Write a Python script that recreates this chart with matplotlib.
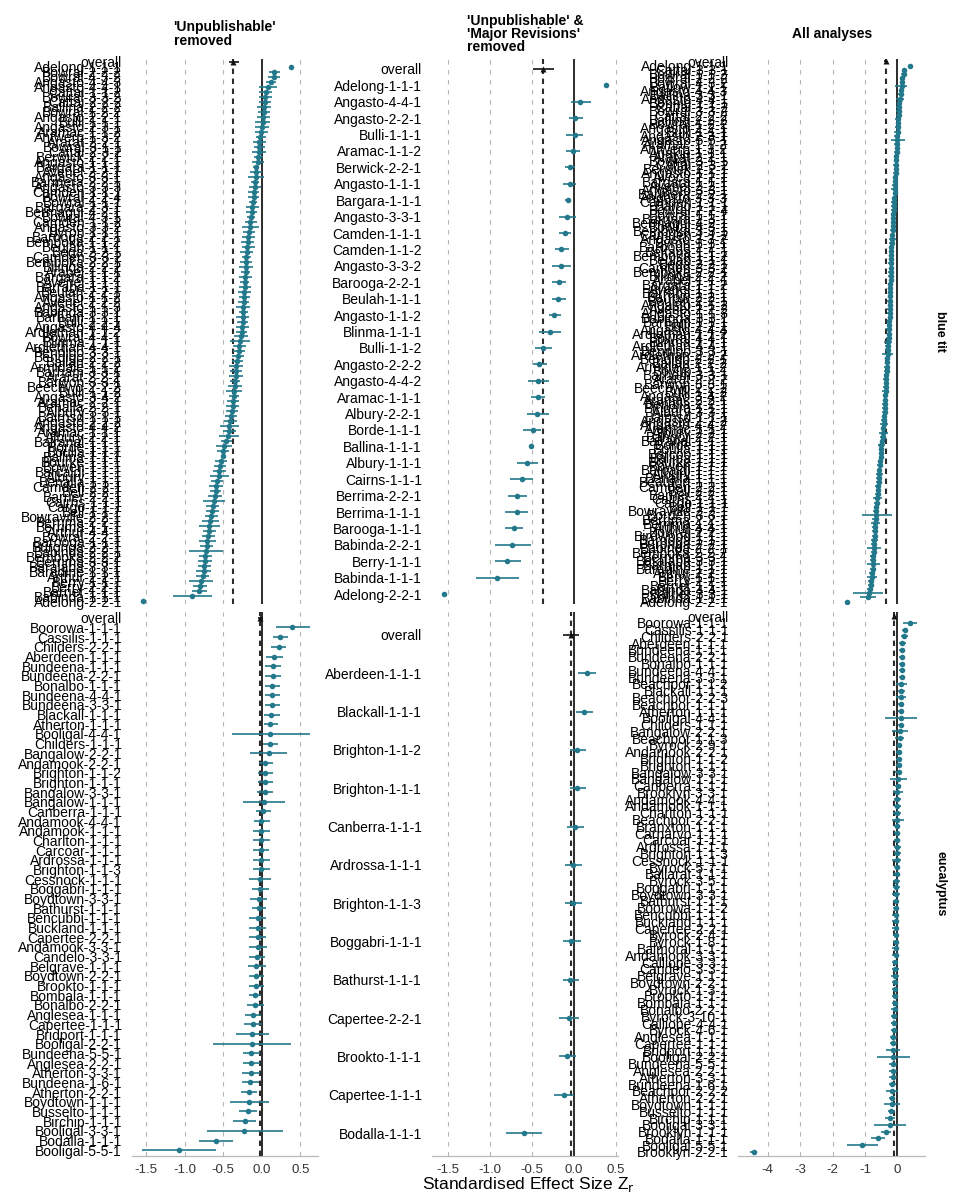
import matplotlib
matplotlib.use('Agg')
import matplotlib.pyplot as plt

plt.rcParams['font.family'] = ['Liberation Sans', 'DejaVu Sans']
plt.rcParams['axes.unicode_minus'] = False

# ---------------- data ----------------
# group: P = in every panel, M = 'Major Revisions' (not in middle column), U = 'Unpublishable' (only in All analyses)
bt_labels = [
    # P
    "Adelong-1-1-1", "Angasto-4-4-1", "Angasto-2-2-1", "Bulli-1-1-1", "Aramac-1-1-2", "Berwick-2-2-1",
    "Angasto-1-1-1", "Bargara-1-1-1", "Angasto-3-3-1", "Camden-1-1-1", "Camden-1-1-2", "Angasto-3-3-2",
    "Barooga-2-2-1", "Beulah-1-1-1", "Angasto-1-1-2", "Blinma-1-1-1", "Bulli-1-1-2", "Angasto-2-2-2",
    "Angasto-4-4-2", "Aramac-1-1-1", "Albury-2-2-1", "Borde-1-1-1", "Ballina-1-1-1", "Albury-1-1-1",
    "Cairns-1-1-1", "Berrima-2-2-1", "Berrima-1-1-1", "Barooga-1-1-1", "Babinda-2-2-1", "Berry-1-1-1",
    "Babinda-1-1-1", "Adelong-2-2-1",
    # M
    "Bowral-2-2-2", "Bowral-4-3-2", "Angasto-4-4-3", "Cattai-1-1-2", "Bowral-3-3-2", "Cattai-2-2-2",
    "Ballina-2-2-2", "Bowral-1-2-2", "Angasto-2-3-1", "Antwerp-1-3-2", "Ararat-2-2-1", "Bowral-3-1-1",
    "Cattai-2-3-2", "Avenel-2-2-1", "Barmera-2-2-1", "Angasto-3-3-3", "Bowral-2-2-4", "Bowral-1-1-1",
    "Bargara-2-3-1", "Bermagui-4-2-1", "Bowral-4-3-1", "Byron-1-1-1", "Bemboka-1-1-2", "Bega-2-2-1",
    "Camden-3-3-2", "Bemboka-2-2-1", "Bilinga-2-2-2", "Arabel-1-1-1", "Bargara-1-1-2", "Avenel-1-1-1",
    "Barraba-1-1-1", "Beulah-2-2-1", "Avenel-2-2-2", "Angasto-1-1-3", "Babinda-3-3-1", "Barham-1-1-1",
    "Bulli-2-2-1", "Angasto-4-4-4", "Ardlethan-1-1-2", "Bowral-4-4-1", "Ardlethan-4-4-1", "Bendigo-3-3-1",
    "Bendigo-2-2-1", "Ballan-2-2-2", "Armidale-1-1-2", "Barham-3-3-1", "Ararat-2-2-2", "Barwon-3-3-1",
    "Beechwo-2-2-2", "Angasto-3-4-2", "Aramac-2-2-1", "Benalla-2-2-1", "Albury-3-3-1", "Bairnsd-1-1-1",
    "Balranal-1-1-1", "Boulia-1-1-1", "Bourke-1-1-1", "Bowen-1-1-1", "Barcaldi-1-1-1", "Benalla-1-1-1",
    "Camden-2-2-1", "Bell-2-2-1", "Barrier-2-2-1", "Cargo-1-1-1", "Bell-1-1-1", "Bowraville-2-2-1",
    "Arthur-4-4-1", "Bowral-2-2-1", "Buronga-2-2-1", "Bemboka-2-2-2", "Berrima-3-3-1", "Baralaba-3-3-1",
    "Baradine-1-1-1", "Arthur-2-2-1", "Berry-2-2-1", "Barrier-1-1-1",
    # U
    "Cattai-3-3-1", "Bowral-1-1-2", "Batlow-1-1-1", "Ballina-3-3-1", "Bonnie-1-1-1", "Angasto-5-5-1",
    "Anakie-1-1-1", "Avoca-2-2-1", "Bargo-1-1-1", "Bemboka-3-3-1", "Beltana-1-1-1", "Barrow-2-2-1",
    "Ardlethan-2-2-2", "Boyup-1-1-1", "Bingara-1-1-1", "Bangor-2-2-1", "Barcoo-1-1-1", "Beaufort-1-1-1",
    "Borden-3-3-1", "Birdwood-1-1-1", "Barmah-1-1-1", "Babinda-4-4-1", "Barrier-3-3-1",
]
bt_group = ["P"] * 32 + ["M"] * 76 + ["U"] * 23
bt_est = [
    0.38, 0.08, 0.02, 0.01, -0.01, -0.05, -0.05, -0.07, -0.08, -0.10, -0.15, -0.15,
    -0.18, -0.19, -0.23, -0.28, -0.36, -0.41, -0.42, -0.43, -0.44, -0.49, -0.51, -0.56,
    -0.62, -0.67, -0.68, -0.71, -0.73, -0.79, -0.91, -1.54,
    0.16, 0.16, 0.12, 0.05, 0.045, 0.04, 0.03, 0.025, 0.0, -0.02, -0.03, -0.03,
    -0.04, -0.075, -0.085, -0.09, -0.105, -0.12, -0.125, -0.13, -0.14, -0.17, -0.185, -0.195,
    -0.20, -0.205, -0.21, -0.21, -0.215, -0.22, -0.22, -0.225, -0.235, -0.24, -0.24, -0.245,
    -0.25, -0.255, -0.26, -0.27, -0.29, -0.30, -0.31, -0.32, -0.33, -0.335, -0.34, -0.345,
    -0.35, -0.365, -0.37, -0.38, -0.39, -0.40, -0.46, -0.50, -0.53, -0.54, -0.55, -0.58,
    -0.59, -0.60, -0.61, -0.635, -0.645, -0.655, -0.685, -0.695, -0.715, -0.735, -0.74, -0.745,
    -0.755, -0.77, -0.80, -0.81,
    0.22, 0.20, 0.13, 0.10, 0.06, 0.0, -0.02, -0.06, -0.10, -0.14, -0.18, -0.22,
    -0.30, -0.33, -0.38, -0.45, -0.50, -0.58, -0.66, -0.70, -0.75, -0.85, -0.88,
]
bt_lo = [
    0.37, -0.03, -0.06, -0.09, -0.09, -0.10, -0.13, -0.11, -0.18, -0.18, -0.22, -0.26,
    -0.26, -0.26, -0.30, -0.41, -0.46, -0.49, -0.54, -0.51, -0.56, -0.60, -0.53, -0.67,
    -0.76, -0.78, -0.82, -0.82, -0.94, -0.94, -1.16, -1.56,
    0.09, 0.08, 0.05, -0.03, -0.04, -0.04, -0.06, -0.05, -0.09, -0.08, -0.11, -0.10,
    -0.13, -0.15, -0.14, -0.17, -0.18, -0.17, -0.21, -0.20, -0.19, -0.25, -0.27, -0.28,
    -0.26, -0.28, -0.30, -0.27, -0.30, -0.28, -0.30, -0.31, -0.31, -0.33, -0.30, -0.33,
    -0.32, -0.34, -0.33, -0.36, -0.37, -0.38, -0.39, -0.39, -0.42, -0.41, -0.43, -0.41,
    -0.44, -0.43, -0.45, -0.46, -0.47, -0.48, -0.53, -0.58, -0.61, -0.62, -0.64, -0.66,
    -0.68, -0.67, -0.70, -0.72, -0.73, -0.74, -0.77, -0.78, -0.80, -0.82, -0.83, -0.83,
    -0.85, -0.86, -0.89, -0.91,
    0.14, 0.12, -0.07, 0.02, -0.02, -0.20, -0.10, -0.14, -0.18, -0.22, -0.26, -0.30,
    -0.48, -0.41, -0.46, -0.53, -0.58, -0.66, -1.10, -0.78, -0.94, -0.95, -1.36,
]
bt_hi = [
    0.39, 0.20, 0.11, 0.11, 0.08, 0.01, 0.03, -0.04, 0.03, -0.03, -0.06, -0.03,
    -0.09, -0.09, -0.15, -0.15, -0.26, -0.32, -0.30, -0.34, -0.30, -0.39, -0.49, -0.43,
    -0.48, -0.56, -0.54, -0.60, -0.51, -0.63, -0.65, -1.52,
    0.24, 0.24, 0.19, 0.13, 0.13, 0.12, 0.12, 0.10, 0.09, 0.05, 0.06, 0.04,
    0.05, 0.00, -0.03, -0.01, -0.03, -0.06, -0.04, -0.06, -0.09, -0.09, -0.10, -0.11,
    -0.14, -0.13, -0.12, -0.15, -0.13, -0.16, -0.14, -0.14, -0.16, -0.15, -0.18, -0.16,
    -0.18, -0.17, -0.19, -0.18, -0.21, -0.22, -0.23, -0.25, -0.24, -0.26, -0.25, -0.28,
    -0.26, -0.30, -0.29, -0.30, -0.31, -0.32, -0.39, -0.42, -0.45, -0.46, -0.46, -0.50,
    -0.50, -0.53, -0.52, -0.55, -0.56, -0.57, -0.60, -0.61, -0.63, -0.65, -0.65, -0.66,
    -0.66, -0.68, -0.71, -0.71,
    0.30, 0.28, 0.31, 0.18, 0.14, 0.24, 0.06, 0.02, -0.02, -0.06, -0.10, -0.14,
    -0.12, -0.25, -0.30, -0.37, -0.42, -0.50, -0.17, -0.62, -0.53, -0.75, -0.43,
]

euc_labels = [
    "Boorowa-1-1-1", "Cassilis-1-1-1", "Childers-2-2-1", "Aberdeen-1-1-1", "Bundeena-1-1-1", "Bundeena-2-2-1",
    "Bonalbo-1-1-1", "Bundeena-4-4-1", "Bundeena-3-3-1", "Beachpor-1-1-2", "Blackall-1-1-1", "Beachpor-2-2-3",
    "Beachpor-1-1-1", "Atherton-1-1-1", "Booligal-4-4-1", "Childers-1-1-1", "Bangalow-2-2-1", "Beachpor-1-1-3",
    "Byrock-2-9-1", "Andamook-2-2-1", "Brighton-1-1-2", "Brighton-1-1-1", "Bangalow-3-3-1", "Bangalow-1-1-1",
    "Canberra-1-1-1", "Brooklyn-3-3-1", "Andamook-4-4-1", "Andamook-1-1-1", "Charlton-1-1-1", "Beachpor-2-2-1",
    "Branxton-1-1-1", "Carnarvo-1-1-1", "Carcoar-1-1-1", "Ardrossa-1-1-1", "Brighton-1-1-3", "Cessnock-1-1-1",
    "Byrock-5-7-1", "Ballarat-1-1-1", "Byrock-3-5-1", "Boggabri-1-1-1", "Boydtown-3-3-1", "Bathurst-1-1-1",
    "Boorowa-1-1-2", "Bencubbi-1-1-1", "Buckland-1-1-1", "Capertee-2-2-1", "Byrock-2-4-1", "Byrock-1-8-1",
    "Balmoral-1-1-1", "Andamook-3-3-1", "Calliope-3-3-1", "Candelo-3-3-1", "Belgrave-1-1-1", "Boydtown-2-2-1",
    "Byrock-1-3-1", "Brookto-1-1-1", "Bombala-1-1-1", "Bonalbo-2-2-1", "Byrock-3-10-1", "Calliope-4-4-1",
    "Byrock-4-6-1", "Anglesea-1-1-1", "Capertee-1-1-1", "Bridport-1-1-1", "Booligal-2-2-1", "Bundeena-5-5-1",
    "Anglesea-2-2-1", "Atherton-3-3-1", "Bundeena-1-6-1", "Beachpor-2-2-2", "Atherton-2-2-1", "Boydtown-1-1-1",
    "Busselto-1-1-1", "Birchip-1-1-1", "Booligal-3-3-1", "Brooklyn-1-1-1", "Bodalla-1-1-1", "Booligal-5-5-1",
    "Brooklyn-2-2-1",
]
euc_group = [
    "M", "M", "M", "P", "M", "M", "M", "M", "M", "U", "P", "U",
    "U", "M", "M", "M", "M", "U", "U", "M", "P", "P", "M", "M",
    "P", "U", "M", "M", "M", "U", "U", "U", "M", "P", "P", "M",
    "U", "U", "U", "P", "M", "P", "U", "M", "M", "P", "U", "U",
    "U", "M", "U", "M", "M", "M", "U", "P", "M", "M", "U", "U",
    "U", "M", "P", "M", "M", "M", "M", "M", "M", "U", "M", "M",
    "M", "M", "M", "U", "P", "M", "U",
]
euc_est = [
    0.39, 0.24, 0.22, 0.154, 0.141, 0.140, 0.132, 0.131, 0.130, 0.125, 0.123, 0.118,
    0.115, 0.110, 0.109, 0.102, 0.089, 0.080, 0.060, 0.045, 0.044, 0.043, 0.037, 0.024,
    0.015, 0.005, -0.006, -0.007, -0.009, -0.0093, -0.0095, -0.0097, -0.010, -0.011, -0.012, -0.019,
    -0.022, -0.024, -0.026, -0.028, -0.040, -0.041, -0.045, -0.049, -0.050, -0.053, -0.0532, -0.0534,
    -0.0536, -0.054, -0.058, -0.063, -0.071, -0.075, -0.076, -0.077, -0.083, -0.084, -0.09, -0.10,
    -0.11, -0.118, -0.119, -0.123, -0.128, -0.135, -0.136, -0.141, -0.149, -0.16, -0.170, -0.171,
    -0.180, -0.223, -0.236, -0.35, -0.595, -1.08, -4.44,
]
euc_lo = [
    0.18, 0.15, 0.12, 0.054, 0.045, 0.045, 0.037, 0.037, 0.037, -0.05, 0.032, -0.03,
    0.02, 0.024, -0.39, 0.015, -0.15, -0.06, -0.02, -0.04, -0.05, -0.05, -0.06, -0.24,
    -0.08, -0.14, -0.10, -0.11, -0.12, -0.17, -0.09, -0.10, -0.115, -0.11, -0.11, -0.16,
    -0.11, -0.12, -0.12, -0.13, -0.15, -0.13, -0.14, -0.16, -0.16, -0.17, -0.14, -0.14,
    -0.15, -0.17, -0.15, -0.17, -0.18, -0.17, -0.17, -0.17, -0.16, -0.19, -0.18, -0.19,
    -0.20, -0.22, -0.23, -0.34, -0.63, -0.245, -0.245, -0.26, -0.26, -0.35, -0.27, -0.41,
    -0.29, -0.37, -0.71, -0.50, -0.81, -1.56, -4.55,
]
euc_hi = [
    0.62, 0.335, 0.32, 0.27, 0.25, 0.25, 0.24, 0.23, 0.23, 0.29, 0.23, 0.28,
    0.21, 0.21, 0.62, 0.21, 0.33, 0.22, 0.14, 0.15, 0.15, 0.15, 0.14, 0.30,
    0.12, 0.17, 0.10, 0.11, 0.11, 0.20, 0.07, 0.08, 0.09, 0.10, 0.10, 0.12,
    0.07, 0.07, 0.07, 0.09, 0.07, 0.06, 0.05, 0.06, 0.054, 0.06, 0.03, 0.03,
    0.04, 0.067, 0.03, 0.045, 0.058, 0.024, 0.02, 0.03, -0.006, 0.024, 0.0, 0.0,
    -0.02, -0.006, 0.0, 0.09, 0.38, -0.02, -0.02, -0.02, -0.04, 0.03, -0.063, 0.09,
    -0.063, -0.076, 0.275, -0.20, -0.38, -0.59, -4.33,
]

# overall estimates per column: 'Unpublishable' removed, + 'Major Revisions' removed, All analyses
bt_overall_est = [-0.37, -0.36, -0.36]
bt_overall_lo = [-0.43, -0.49, -0.40]
bt_overall_hi = [-0.30, -0.23, -0.32]
euc_overall_est = [-0.02, -0.036, -0.10]
euc_overall_lo = [-0.05, -0.13, -0.13]
euc_overall_hi = [0.01, 0.06, -0.07]

col_titles = ["'Unpublishable'\nremoved", "'Unpublishable' &\n'Major Revisions'\nremoved", "All analyses"]
row_titles = ["blue tit", "eucalyptus"]
col_groups = [("P", "M"), ("P",), ("P", "M", "U")]
x_ticks = [[-1.5, -1.0, -0.5, 0.0, 0.5], [-1.5, -1.0, -0.5, 0.0, 0.5], [-4, -3, -2, -1, 0]]
x_ticklabels = [["-1.5", "-1.0", "-0.5", "0.0", "0.5"], ["-1.5", "-1.0", "-0.5", "0.0", "0.5"],
                ["-4", "-3", "-2", "-1", "0"]]
x_label = "Standardised Effect Size Z$_\\mathrm{r}$"

# ---------------- layout ----------------
TEAL = "#23798b"
W, H = 963.0, 1200.0
col_px = [(131.7, 318.0), (431.7, 618.3), (738.3, 925.0)]
row_px = [(59.0, 604.0), (612.0, 1156.0)]
x_lims = [(-1.69, 0.73), (-1.69, 0.53), (-4.91, 0.855)]

fig = plt.figure(figsize=(W / 100, H / 100), dpi=100)

species = [
    (bt_labels, bt_group, bt_est, bt_lo, bt_hi, bt_overall_est, bt_overall_lo, bt_overall_hi),
    (euc_labels, euc_group, euc_est, euc_lo, euc_hi, euc_overall_est, euc_overall_lo, euc_overall_hi),
]

for r, sp in enumerate(species):
    labs, grp, est, lo, hi, oe, ol, oh = sp
    for c in range(3):
        x0, x1 = col_px[c]
        y0, y1 = row_px[r]
        ax = fig.add_axes([x0 / W, 1 - y1 / H, (x1 - x0) / W, (y1 - y0) / H])
        idx = [i for i in range(len(labs)) if grp[i] in col_groups[c]]
        idx = sorted(idx, key=lambda i: -est[i])
        n = len(idx)
        ys = list(range(1, n + 1))
        ax.set_xlim(*x_lims[c])
        ax.set_ylim(n + 0.6, -0.6)
        for t in x_ticks[c]:
            if t != 0:
                ax.axvline(t, color="#b5b5b5", lw=0.8, ls=(0, (4, 5)), zorder=1)
        ax.axvline(0, color="#1a1a1a", lw=1.3, zorder=2)
        ax.axvline(oe[c], color="#2b2b2b", lw=1.5, ls=(0, (2.6, 2.2)), zorder=3)
        ax.hlines(ys, [lo[i] for i in idx], [hi[i] for i in idx], color=TEAL, lw=1.2, zorder=4)
        ax.plot([est[i] for i in idx], ys, "o", ms=4, color=TEAL, mec="none", zorder=5)
        ax.hlines([0], [ol[c]], [oh[c]], color="#111111", lw=1.2, zorder=6)
        ax.plot([oe[c]], [0], "^", ms=4.5, color="#111111", mec="none", zorder=7)
        ax.set_yticks([0] + ys)
        ax.set_yticklabels(["overall"] + [labs[i] for i in idx], fontsize=10, color="black")
        ax.tick_params(axis="y", length=0, pad=7)
        for s in ["top", "right", "left"]:
            ax.spines[s].set_visible(False)
        ax.set_xticks(x_ticks[c])
        if r == 1:
            ax.spines["bottom"].set_color("#b8b8b8")
            ax.spines["bottom"].set_linewidth(0.9)
            ax.set_xticklabels(x_ticklabels[c], fontsize=9.5, color="#333333")
            ax.tick_params(axis="x", length=0, pad=6)
        else:
            ax.spines["bottom"].set_visible(False)
            ax.tick_params(axis="x", length=0, labelbottom=False)
        ax.set_facecolor("none")

for c in range(3):
    xc = (col_px[c][0] + col_px[c][1]) / 2 / W
    fig.text(xc, 1 - 34 / H, col_titles[c], ha="center", va="center", fontsize=10,
             fontweight="bold", multialignment="left", linespacing=0.95)

for r in range(2):
    yc = 1 - (row_px[r][0] + row_px[r][1]) / 2 / H
    fig.text(940 / W, yc, row_titles[r], ha="center", va="center", rotation=-90,
             fontsize=9, fontweight="bold")

fig.text((col_px[0][0] + col_px[2][1]) / 2 / W, 1 - 1185 / H, x_label, ha="center", va="center",
         fontsize=12.5)

fig.savefig("out.png", dpi=100)
